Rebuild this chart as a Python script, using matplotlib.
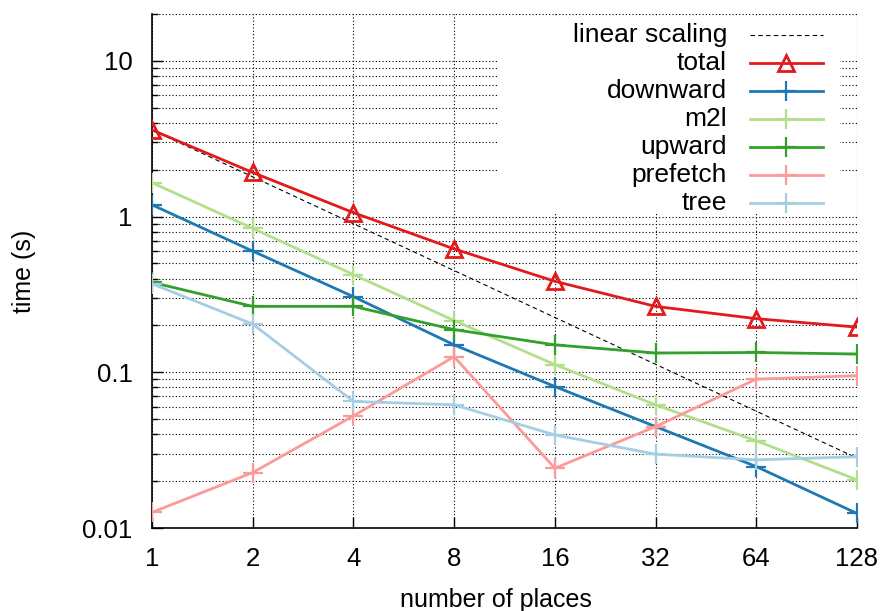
import matplotlib
matplotlib.use("Agg")
import matplotlib.pyplot as plt
from matplotlib.lines import Line2D
from matplotlib.patches import Rectangle
from matplotlib.ticker import FixedLocator, NullFormatter

plt.rcParams["font.family"] = ["Liberation Sans", "DejaVu Sans"]
plt.rcParams["font.size"] = 18.5

# Timings per number of places (seconds)
places = [1, 2, 4, 8, 16, 32, 64, 128]
linear_scaling = [3.6, 1.8, 0.9, 0.45, 0.225, 0.1125, 0.05625, 0.028125]
total = [3.6, 1.92, 1.06, 0.62, 0.384, 0.265, 0.221, 0.195]
downward = [1.19, 0.60, 0.306, 0.150, 0.081, 0.0448, 0.0248, 0.0124]
m2l = [1.65, 0.84, 0.424, 0.215, 0.112, 0.0618, 0.0363, 0.0204]
upward = [0.378, 0.265, 0.265, 0.188, 0.150, 0.133, 0.134, 0.131]
prefetch = [0.0126, 0.0227, 0.0525, 0.126, 0.0242, 0.0448, 0.0904, 0.095]
tree = [0.37, 0.204, 0.065, 0.0618, 0.0396, 0.0298, 0.0274, 0.0287]

y_major = [0.01, 0.1, 1, 10]
y_major_labels = ["0.01", "0.1", "1", "10"]
y_minor = [m * d for d in [0.01, 0.1, 1, 10] for m in range(2, 10)]

series = [
    ("linear scaling", linear_scaling, "black", None, (0, (4, 3)), 0.8),
    ("total", total, "#e31a1c", "^", "-", 2.0),
    ("downward", downward, "#1f78b4", "+", "-", 2.0),
    ("m2l", m2l, "#b2df8a", "+", "-", 2.0),
    ("upward", upward, "#33a02c", "+", "-", 2.0),
    ("prefetch", prefetch, "#fb9a99", "+", "-", 2.0),
    ("tree", tree, "#a6cee3", "+", "-", 2.0),
]

fig = plt.figure(figsize=(8.87, 6.11), dpi=100)
ax = fig.add_axes([152 / 887, 83 / 611, 705 / 887, 514 / 611])

for label, vals, color, marker, ls, lw in series:
    kw = dict(color=color, linestyle=ls, linewidth=lw, zorder=3)
    if marker == "^":
        kw.update(marker="^", markersize=12, markerfacecolor="none",
                  markeredgewidth=2.0, markeredgecolor=color)
    elif marker == "+":
        kw.update(marker="+", markersize=15, markeredgewidth=1.6)
    ax.plot(places, vals, **kw)

ax.set_xscale("log", base=2)
ax.set_yscale("log")
ax.set_xlim(1, 128)
ax.set_ylim(0.01, 20)

ax.xaxis.set_major_locator(FixedLocator(places))
ax.set_xticklabels([str(p) for p in places])
ax.xaxis.set_minor_locator(FixedLocator([]))
ax.yaxis.set_major_locator(FixedLocator(y_major))
ax.set_yticklabels(y_major_labels)
ax.yaxis.set_minor_locator(FixedLocator(y_minor))
ax.yaxis.set_minor_formatter(NullFormatter())

ax.tick_params(which="major", direction="in", length=8, width=1)
ax.tick_params(which="minor", direction="in", length=4, width=1)
ax.tick_params(axis="x", which="major", pad=14)
ax.tick_params(axis="y", which="major", pad=14)

for side in ("top", "right"):
    ax.spines[side].set_visible(False)
for side in ("left", "bottom"):
    ax.spines[side].set_linewidth(1.2)

ax.set_axisbelow(True)
grid_kw = dict(color="black", linestyle=(0, (1, 2)), linewidth=0.8)
ax.grid(True, which="major", axis="both", **grid_kw)
ax.grid(True, which="minor", axis="y", **grid_kw)

ax.set_xlabel("number of places", fontsize=18)
ax.xaxis.set_label_coords(0.488, -0.117)
ax.set_ylabel("time (s)", fontsize=18)
ax.yaxis.set_label_coords(-0.165, 0.5)

# Key: labels right-aligned to the left of the line samples, on a white box
ax.add_patch(Rectangle((0.4908, 0.611), 0.485, 0.383, transform=ax.transAxes,
                       facecolor="white", edgecolor="none", zorder=2))
row_y = [0.959, 0.904, 0.850, 0.796, 0.741, 0.687, 0.632]
for (label, vals, color, marker, ls, lw), y in zip(series, row_y):
    ax.text(0.8156, y, label, transform=ax.transAxes, ha="right",
            va="center", fontsize=19, zorder=4)
    ax.add_line(Line2D([0.8482, 0.9518], [y, y], transform=ax.transAxes,
                       color=color, linestyle=ls, linewidth=lw, zorder=4))
    if marker == "^":
        ax.add_line(Line2D([0.9], [y], transform=ax.transAxes, marker="^",
                           markersize=12, markerfacecolor="none",
                           markeredgewidth=2.0, markeredgecolor=color,
                           linestyle="none", zorder=4))
    elif marker == "+":
        ax.add_line(Line2D([0.9], [y], transform=ax.transAxes, marker="+",
                           markersize=15, markeredgewidth=1.6, color=color,
                           linestyle="none", zorder=4))

fig.savefig("out.png", dpi=100)
